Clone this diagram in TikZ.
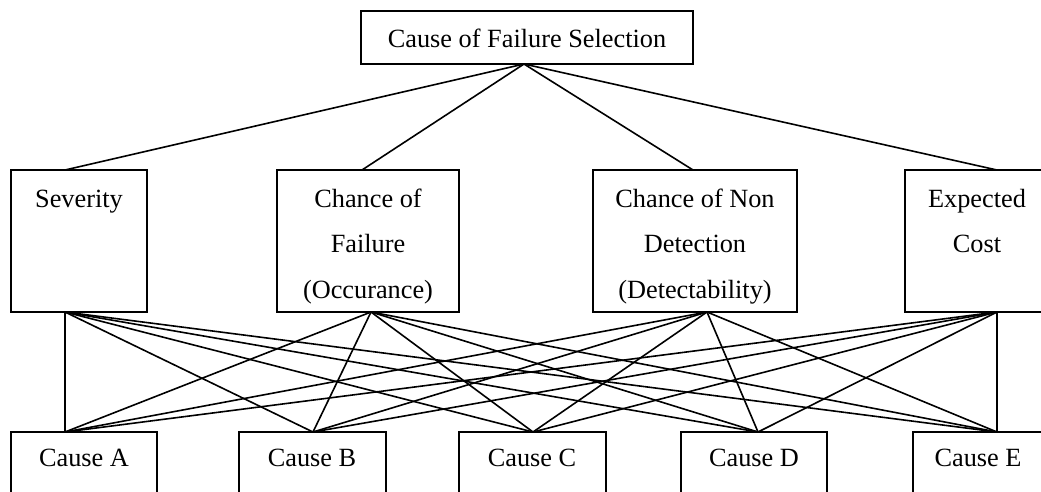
\documentclass[tikz,border=0pt]{standalone}
\usepackage{fontspec}
\setmainfont{Liberation Serif}
\begin{document}
\begin{tikzpicture}[x=1pt,y=-1pt,
  boxline/.style={draw=black,line width=1.6pt},
  conn/.style={draw=black,line width=1.6pt},
  lbl/.style={anchor=base,inner sep=0pt,font=\fontsize{26.3}{30}\selectfont}]
\useasboundingbox (0,0) rectangle (1041,491);
\clip (0,0) rectangle (1041,491);
% boxes
\draw[boxline] (361,11) rectangle (693,64);
\draw[boxline] (11,170) rectangle (147,312);
\draw[boxline] (277,170) rectangle (459,312);
\draw[boxline] (593,170) rectangle (797,312);
\draw[boxline] (905,170) rectangle (1050,312);
\draw[boxline] (11,432) rectangle (157,500);
\draw[boxline] (239,432) rectangle (386,500);
\draw[boxline] (459,432) rectangle (606,500);
\draw[boxline] (681,432) rectangle (827,500);
\draw[boxline] (913,432) rectangle (1050,500);
% labels
\node[lbl] (goal) at (527,47) {Cause of Failure Selection};
\node[lbl] (sev) at (79,207) {Severity};
\node[lbl] (cof) at (368,207) {Chance of};
\node[lbl] (cof2) at (368,252) {Failure};
\node[lbl] (cof3) at (368,298) {(Occurance)};
\node[lbl] (cnd) at (695,207) {Chance of Non};
\node[lbl] (cnd2) at (695,252) {Detection};
\node[lbl] (cnd3) at (695,298) {(Detectability)};
\node[lbl] (ec) at (977,207) {Expected};
\node[lbl] (ec2) at (977,252) {Cost};
\node[lbl] (ca) at (84,466) {Cause A};
\node[lbl] (cb) at (312,466) {Cause B};
\node[lbl] (cc) at (532,466) {Cause C};
\node[lbl] (cd) at (754,466) {Cause D};
\node[lbl] (ce) at (978,466) {Cause E};
% attachment points
\coordinate (gB) at (524,64);
\coordinate (sevT) at (65,170);
\coordinate (cofT) at (362,170);
\coordinate (cndT) at (693,170);
\coordinate (ecT) at (997,170);
\coordinate (sevB) at (65,312);
\coordinate (cofB) at (371,312);
\coordinate (cndB) at (707,312);
\coordinate (ecB) at (997,312);
\coordinate (aT) at (65,432);
\coordinate (bT) at (313,432);
\coordinate (cT) at (533,432);
\coordinate (dT) at (758,432);
\coordinate (eT) at (997,432);
% connectors
\foreach \m in {sevT,cofT,cndT,ecT} \draw[conn] (gB) -- (\m);
\foreach \m in {sevB,cofB,cndB,ecB}
  \foreach \c in {aT,bT,cT,dT,eT}
    \draw[conn] (\m) -- (\c);
\end{tikzpicture}
\end{document}
